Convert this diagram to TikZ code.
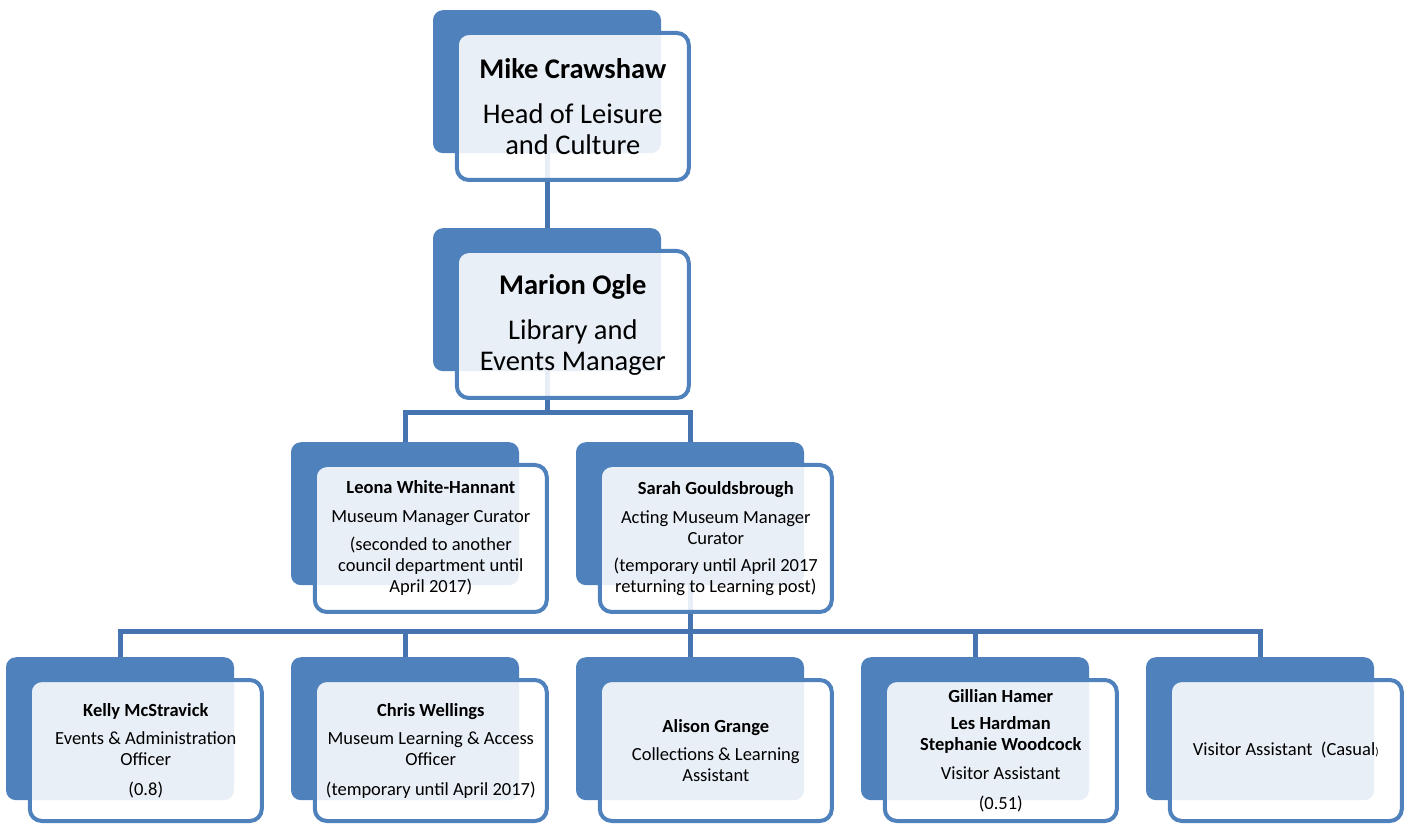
\documentclass[tikz,border=0pt]{standalone}
\usepackage{fontspec}
\setmainfont{Carlito}
\usetikzlibrary{positioning}
\definecolor{orgblue}{HTML}{4F81BD}
\definecolor{linkblue}{HTML}{4674B0}

\begin{document}
\begin{tikzpicture}[x=1pt, y=1pt,
    back/.style={rectangle, rounded corners=10pt, fill=orgblue, minimum width=228pt, minimum height=143pt, inner sep=0pt, anchor=north},
    card/.style={rectangle, rounded corners=12pt, draw=orgblue, line width=4pt, fill=white, fill opacity=0.88, text opacity=1, minimum width=232pt, minimum height=147pt, inner sep=2pt, align=center, font=\fontsize{18.5}{21}\selectfont},
    bigcard/.style={card, font=\fontsize{28.5}{31}\selectfont},
    lowcard/.style={card, minimum height=141pt},
    link/.style={draw=linkblue, line width=5pt}]
   \useasboundingbox (0,0) rectangle (1408,825);
   % back plates
   \node[back] (bcraw)   at (547,815) {};
   \node[back] (bogle)   at (547,597) {};
   \node[back] (bleona)  at (405,383) {};
   \node[back] (bsarah)  at (690,383) {};
   \node[back] (bkelly)  at (120,168) {};
   \node[back] (bchris)  at (405,168) {};
   \node[back] (balison) at (690,168) {};
   \node[back] (bgill)   at (975,168) {};
   \node[back] (bvisit)  at (1260,168) {};
   % connectors
   \coordinate (bus1) at (547,412);
   \coordinate (bus2) at (690,193);
   \path[link] (bcraw.south) -- (bogle.north);
   \path[link] (bogle.south) -- (bus1);
   \path[link] (bleona.north) |- (bus1);
   \path[link] (bsarah.north) |- (bus1);
   \path[link] (bsarah.south) -- (bus2);
   \path[link] (bkelly.north) |- (bus2);
   \path[link] (bchris.north) |- (bus2);
   \path[link] (balison.north) |- (bus2);
   \path[link] (bgill.north) |- (bus2);
   \path[link] (bvisit.north) |- (bus2);
   % cards
   \node[bigcard, below right=21pt and 22pt of bcraw.north west, anchor=north west] (craw)
      {\textbf{Mike Crawshaw}\\[14pt]Head of Leisure\\and Culture};
   \node[bigcard, below right=21pt and 22pt of bogle.north west, anchor=north west] (ogle)
      {\textbf{Marion Ogle}\\[14pt]Library and\\Events Manager};
   \node[card, below right=21pt and 22pt of bleona.north west, anchor=north west] (leona)
      {\textbf{Leona White-Hannant}\\[8pt]Museum Manager Curator\\[7pt](seconded to another\\council department until\\April 2017)};
   \node[card, below right=21pt and 22pt of bsarah.north west, anchor=north west] (sarah)
      {\textbf{Sarah Gouldsbrough}\\[8pt]Acting Museum Manager\\Curator\\[6pt](temporary until April 2017\\returning to Learning post)};
   \node[lowcard, below right=21pt and 22pt of bkelly.north west, anchor=north west] (kelly)
      {\textbf{Kelly McStravick}\\[7pt]Events \& Administration\\Officer\\[9pt](0.8)};
   \node[lowcard, below right=21pt and 22pt of bchris.north west, anchor=north west] (chris)
      {\textbf{Chris Wellings}\\[7pt]Museum Learning \& Access\\Officer\\[9pt](temporary until April 2017)};
   \node[lowcard, below right=21pt and 22pt of balison.north west, anchor=north west] (alison)
      {\textbf{Alison Grange}\\[7pt]Collections \& Learning\\Assistant};
   \node[lowcard, below right=21pt and 22pt of bgill.north west, anchor=north west] (gill)
      {\textbf{Gillian Hamer}\\[6pt]\textbf{Les Hardman}\\\textbf{Stephanie Woodcock}\\[8pt]Visitor Assistant\\[9pt](0.51)};
   \node[lowcard, below right=21pt and 22pt of bvisit.north west, anchor=north west] (visit)
      {Visitor Assistant~~(Casual{\fontsize{11}{11}\selectfont)}};
\end{tikzpicture}
\end{document}
